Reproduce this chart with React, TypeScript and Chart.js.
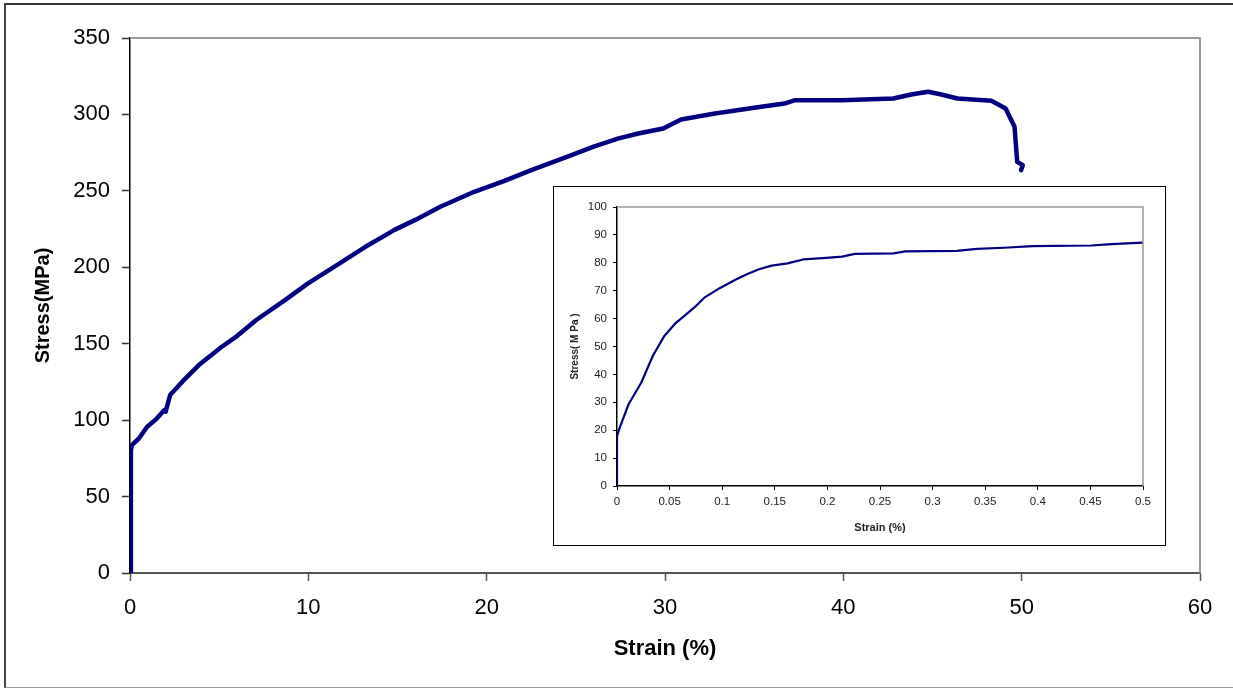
import React, { useEffect, useRef } from "react";
import { Chart, registerables } from "chart.js";

Chart.register(...registerables);

// Main curve: strain (%) vs stress (MPa)
const mainStrain = [0, 0.05, 0.05, 0.1, 0.5, 0.95, 1.5, 1.93, 2.0, 2.1, 2.25, 3.0, 3.86, 5.15, 6.0, 7.08, 8.69, 9.98, 11.6, 13.2, 14.5, 14.8, 16.0, 17.4, 19.3, 21.0, 22.5, 24.5, 26.0, 27.4, 28.5, 29.9, 30.9, 32.8, 35.4, 36.7, 37.3, 39.9, 42.8, 43.8, 44.75, 45.5, 46.4, 48.3, 49.1, 49.6, 49.75, 50.06, 49.97];
const mainStress = [0, 58, 80, 83.7, 88, 95.5, 101, 106.6, 105.5, 110, 116.4, 126, 136, 148, 155, 165.5, 178.5, 189.5, 201.4, 213.4, 222.2, 224.3, 231, 239.6, 249.4, 256.5, 263.6, 272.3, 279, 284.3, 287.5, 290.8, 296.7, 300.6, 305, 307.1, 309.3, 309.3, 310.4, 313, 314.8, 313, 310.4, 308.9, 303.9, 291.9, 269, 266.8, 263.6];

// Inset curve (initial part)
const insetStrain = [0, 0, 0.002, 0.011, 0.023, 0.034, 0.045, 0.056, 0.064, 0.075, 0.083, 0.098, 0.113, 0.124, 0.135, 0.147, 0.162, 0.177, 0.199, 0.214, 0.226, 0.263, 0.274, 0.323, 0.342, 0.368, 0.395, 0.451, 0.47, 0.5];
const insetStress = [0, 17.9, 20.3, 29.3, 37, 46.6, 53.8, 58.5, 61, 64.5, 67.5, 71, 74, 76, 77.7, 79, 79.8, 81.2, 81.8, 82.2, 83.2, 83.4, 84.1, 84.3, 85, 85.4, 86, 86.2, 86.7, 87.2];

const FONT = "'Liberation Sans', Arial, sans-serif";
const LINE_COLOR = "#000080";

const boxPlugin = {
  id: "plotBox",
  afterDraw(chart: any, _args: any, opts: any) {
    const { ctx, chartArea } = chart;
    ctx.save();
    ctx.strokeStyle = opts.color || "#999";
    ctx.lineWidth = opts.width || 2;
    ctx.beginPath();
    ctx.moveTo(chartArea.left, chartArea.top);
    ctx.lineTo(chartArea.right, chartArea.top);
    ctx.lineTo(chartArea.right, chartArea.bottom);
    ctx.stroke();
    ctx.restore();
  },
};

function toPoints(xs: number[], ys: number[]) {
  return xs.map((x, i) => ({ x, y: ys[i] }));
}

export default function App() {
  const mainRef = useRef<HTMLCanvasElement>(null);
  const insetRef = useRef<HTMLCanvasElement>(null);

  useEffect(() => {
    const main = new Chart(mainRef.current as HTMLCanvasElement, {
      type: "scatter",
      data: {
        datasets: [
          {
            data: toPoints(mainStrain, mainStress),
            showLine: true,
            borderColor: LINE_COLOR,
            backgroundColor: LINE_COLOR,
            borderWidth: 4.5,
            borderJoinStyle: "round",
            borderCapStyle: "round",
            pointRadius: 0,
            tension: 0,
          },
        ],
      },
      options: {
        responsive: false,
        animation: false,
        layout: { padding: { left: 0, top: 38, right: 33, bottom: 0 } },
        plugins: {
          legend: { display: false },
          tooltip: { enabled: false },
          plotBox: { color: "#9a9a9a", width: 2 },
        } as any,
        scales: {
          x: {
            type: "linear",
            min: 0,
            max: 60,
            ticks: { stepSize: 10, color: "#000", font: { family: FONT, size: 22 }, padding: 14 },
            grid: { display: true, drawOnChartArea: false, drawTicks: true, tickLength: 8, tickColor: "#555", tickWidth: 1.5 },
            border: { display: true, color: "#555", width: 2 },
            title: { display: true, text: "Strain (%)", color: "#000", font: { family: FONT, size: 22, weight: "bold" }, padding: { top: 0, bottom: 27 } },
            afterFit: (s: any) => { s.height = 116; },
          },
          y: {
            type: "linear",
            min: 0,
            max: 350,
            ticks: { stepSize: 50, color: "#000", font: { family: FONT, size: 22 }, padding: 12 },
            grid: { display: true, drawOnChartArea: false, drawTicks: true, tickLength: 8, tickColor: "#333", tickWidth: 1.5 },
            border: { display: true, color: "#000", width: 1.5 },
            title: { display: true, text: "Stress(MPa)", color: "#000", font: { family: FONT, size: 20, weight: "bold" }, padding: { top: 31, bottom: 0 } },
            afterFit: (s: any) => { s.width = 130; },
          },
        },
      },
      plugins: [boxPlugin],
    });

    const inset = new Chart(insetRef.current as HTMLCanvasElement, {
      type: "scatter",
      data: {
        datasets: [
          {
            data: toPoints(insetStrain, insetStress),
            showLine: true,
            borderColor: LINE_COLOR,
            backgroundColor: LINE_COLOR,
            borderWidth: 2.2,
            borderJoinStyle: "round",
            pointRadius: 0,
            tension: 0,
          },
        ],
      },
      options: {
        responsive: false,
        animation: false,
        layout: { padding: { left: 0, top: 20, right: 22, bottom: 0 } },
        plugins: {
          legend: { display: false },
          tooltip: { enabled: false },
          plotBox: { color: "#999", width: 1.5 },
        } as any,
        scales: {
          x: {
            type: "linear",
            min: 0,
            max: 0.5,
            ticks: {
              stepSize: 0.05,
              autoSkip: false,
              maxRotation: 0,
              color: "#222",
              font: { family: FONT, size: 11.5 },
              padding: 5,
              callback: (v: any) => String(Number(Number(v).toFixed(2))),
            },
            grid: { display: true, drawOnChartArea: false, drawTicks: true, tickLength: 4, tickColor: "#000" },
            border: { display: true, color: "#000", width: 1.5 },
            title: { display: true, text: "Strain (%)", color: "#222", font: { family: FONT, size: 11, weight: "bold" }, padding: { top: 0, bottom: 10 } },
            afterFit: (s: any) => { s.height = 59; },
          },
          y: {
            type: "linear",
            min: 0,
            max: 100,
            ticks: { stepSize: 10, autoSkip: false, color: "#222", font: { family: FONT, size: 11.5 }, padding: 6 },
            grid: { display: true, drawOnChartArea: false, drawTicks: true, tickLength: 4, tickColor: "#000" },
            border: { display: true, color: "#000", width: 1.5 },
            title: { display: true, text: "Stress( M Pa )", color: "#222", font: { family: FONT, size: 10, weight: "bold" }, padding: { top: 15, bottom: 0 } },
            afterFit: (s: any) => { s.width = 63; },
          },
        },
      },
      plugins: [boxPlugin],
    });

    return () => {
      main.destroy();
      inset.destroy();
    };
  }, []);

  return (
    <div style={{ position: "fixed", left: 0, top: 0, width: 1233, height: 689, overflow: "hidden", background: "#fff" }}>
      <canvas ref={mainRef} width={1233} height={689} style={{ position: "absolute", left: 0, top: 0, width: 1233, height: 689 }} />
      <div
        style={{
          position: "absolute",
          left: 4,
          top: 3,
          width: 1260,
          height: 685,
          boxSizing: "border-box",
          borderTop: "2px solid #333",
          borderLeft: "2px solid #444",
          borderBottom: "1px solid #999",
          pointerEvents: "none",
        }}
      />
      <div
        style={{
          position: "absolute",
          left: 553,
          top: 186,
          width: 613,
          height: 360,
          boxSizing: "border-box",
          border: "1px solid #000",
          background: "#fff",
        }}
      >
        <canvas ref={insetRef} width={611} height={358} style={{ display: "block", width: 611, height: 358 }} />
      </div>
    </div>
  );
}
